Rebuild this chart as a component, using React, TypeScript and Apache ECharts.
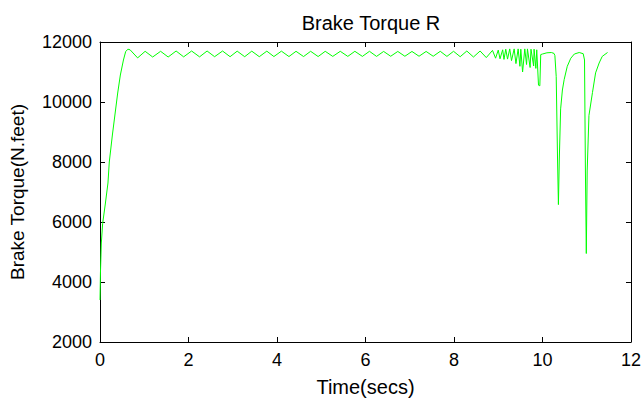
import React, { useEffect, useRef } from "react";
import * as echarts from "echarts";

// ---- data ----
const riseTime = [0, 0.01, 0.03, 0.06, 0.12, 0.18, 0.21, 0.28, 0.34, 0.4, 0.46, 0.53, 0.58, 0.63, 0.68];
const riseTorque = [3400, 4300, 5300, 5950, 6600, 7300, 8000, 8900, 9600, 10300, 10900, 11400, 11680, 11760, 11740];

const steadyTime = [
  0.85, 1.02, 1.19, 1.37, 1.54, 1.72, 1.89, 2.07, 2.25, 2.42, 2.59, 2.77, 2.94, 3.1, 3.27, 3.43, 3.6, 3.77,
  3.93, 4.1, 4.27, 4.43, 4.6, 4.76, 4.93, 5.09, 5.26, 5.43, 5.6, 5.76, 5.93, 6.09, 6.25, 6.41, 6.57, 6.73,
  6.89, 7.05, 7.21, 7.37, 7.53, 7.69, 7.84, 7.99, 8.14, 8.29, 8.44, 8.59, 8.73, 8.87,
];
const steadyTorque = [
  11470, 11690, 11500, 11690, 11500, 11700, 11505, 11700, 11505, 11700, 11510, 11700, 11510, 11695, 11510, 11695, 11510, 11695,
  11515, 11695, 11515, 11690, 11515, 11690, 11515, 11690, 11520, 11690, 11520, 11690, 11520, 11690, 11520, 11685, 11525, 11685,
  11525, 11685, 11525, 11685, 11525, 11690, 11520, 11690, 11510, 11700, 11500, 11700, 11480, 11720,
];

const unstableTime = [
  8.94, 9.0, 9.04, 9.1, 9.13, 9.17, 9.21, 9.26, 9.3, 9.36, 9.4, 9.45, 9.49, 9.51, 9.55, 9.6, 9.64, 9.66, 9.72,
  9.74, 9.8, 9.81, 9.85, 9.87, 9.91, 9.94, 9.96, 10.0, 10.1, 10.2, 10.26,
];
const unstableTorque = [
  11460, 11730, 11440, 11740, 11420, 11760, 11430, 11770, 11380, 11770, 11280, 11770, 11190, 11760, 11000, 11770, 11250, 11770, 11150,
  11760, 11200, 11760, 11120, 11740, 10560, 10540, 11580, 11600, 11640, 11650, 11620,
];

const spikeTime = [
  10.28, 10.31, 10.34, 10.36, 10.38, 10.41, 10.45, 10.49, 10.56, 10.64, 10.72, 10.83, 10.92, 10.95, 10.97, 10.99,
  11.01, 11.05, 11.13, 11.2, 11.28, 11.35, 11.47,
];
const spikeTorque = [
  11550, 10850, 8100, 6580, 8100, 9770, 10400, 10750, 11190, 11460, 11600, 11650, 11610, 11400, 7700, 4950,
  7700, 9550, 10320, 10970, 11300, 11520, 11650,
];

const xTicks = { min: 0, max: 12, interval: 2 };
const yTicks = { min: 2000, max: 12000, interval: 2000 };

const FONT = "'Liberation Sans', Arial, sans-serif";

export default function App() {
  const ref = useRef<HTMLDivElement>(null);

  useEffect(() => {
    document.body.style.margin = "0";
    if (!ref.current) return;
    const chart = echarts.init(ref.current, null, { renderer: "svg" });

    const times = [...riseTime, ...steadyTime, ...unstableTime, ...spikeTime];
    const vals = [...riseTorque, ...steadyTorque, ...unstableTorque, ...spikeTorque];
    const data = times.map((t, i) => [t, vals[i]]);

    const axisLine = { show: true, onZero: false, lineStyle: { color: "#000", width: 1 } };
    const axisTick = { show: true, inside: true, length: 5, lineStyle: { color: "#000", width: 1 } };
    const label = { color: "#000", fontSize: 18, fontFamily: FONT, formatter: (v: number) => String(v) };

    chart.setOption({
      animation: false,
      backgroundColor: "#fff",
      title: {
        text: "Brake Torque R",
        left: 366,
        top: 8,
        textAlign: "center",
        textStyle: { color: "#000", fontSize: 20, fontWeight: "normal", fontFamily: FONT },
      },
      grid: { left: 100, right: 12, top: 42, bottom: 55, containLabel: false },
      xAxis: [
        {
          type: "value",
          position: "bottom",
          ...xTicks,
          axisLine,
          axisTick,
          axisLabel: { ...label, margin: 9 },
          splitLine: { show: false },
          name: "Time(secs)",
          nameLocation: "middle",
          nameGap: 35,
          nameTextStyle: { color: "#000", fontSize: 20, fontFamily: FONT },
        },
        {
          type: "value",
          position: "top",
          ...xTicks,
          axisLine,
          axisTick,
          axisLabel: { show: false },
          splitLine: { show: false },
        },
      ],
      yAxis: [
        {
          type: "value",
          position: "left",
          ...yTicks,
          axisLine,
          axisTick,
          axisLabel: { ...label, margin: 8 },
          splitLine: { show: false },
          name: "Brake Torque(N.feet)",
          nameLocation: "middle",
          nameGap: 73,
          nameTextStyle: { color: "#000", fontSize: 19, fontFamily: FONT },
        },
        {
          type: "value",
          position: "right",
          ...yTicks,
          axisLine,
          axisTick,
          axisLabel: { show: false },
          splitLine: { show: false },
        },
      ],
      series: [
        {
          type: "line",
          xAxisIndex: 0,
          yAxisIndex: 0,
          data,
          showSymbol: false,
          symbol: "none",
          lineStyle: { color: "#00ff00", width: 1 },
        },
      ],
    });

    return () => chart.dispose();
  }, []);

  return (
    <div
      ref={ref}
      style={{ width: 644, height: 402, position: "absolute", left: 0, top: 0, background: "#fff" }}
    />
  );
}
